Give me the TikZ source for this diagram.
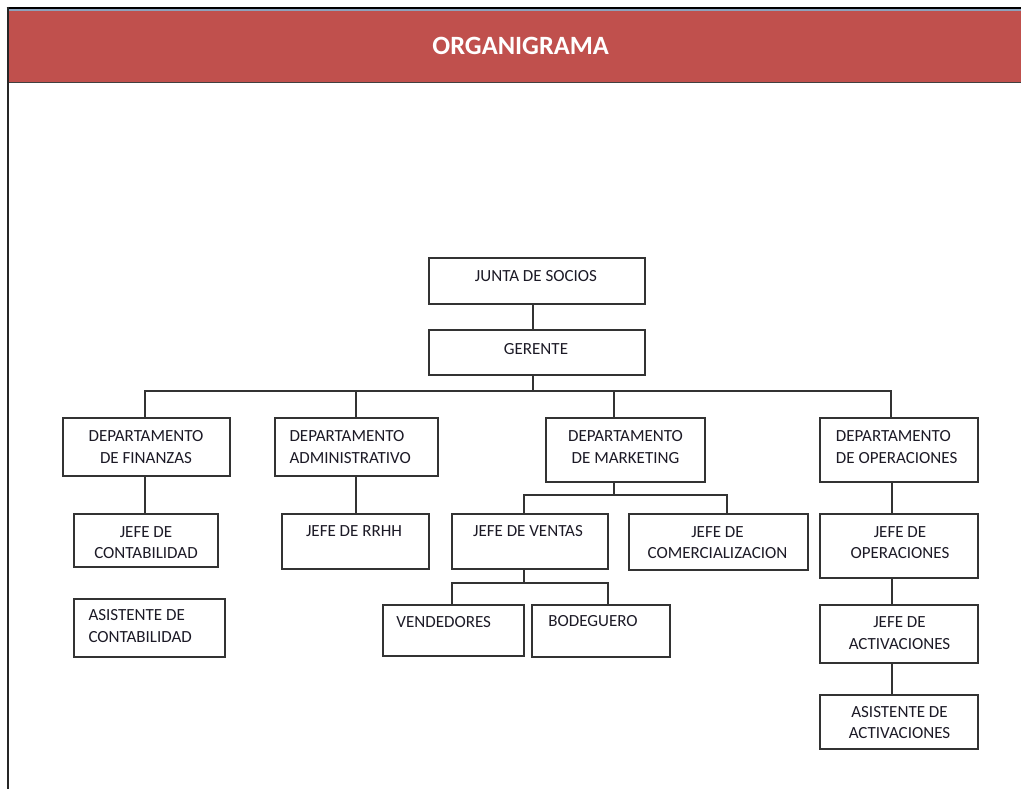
\documentclass[tikz,border=0pt]{standalone}
\usepackage{fontspec}
\setmainfont{Carlito}
\usepackage{tikz}
\definecolor{hdrred}{HTML}{C0504D}
\definecolor{hdrline}{HTML}{8EA2BC}
\definecolor{ink}{HTML}{1C1A26}

\begin{document}
\begin{tikzpicture}[x=1pt,y=-1pt]
\tikzstyle{box}=[draw=black!80,line width=1.6pt,inner sep=0pt];
\tikzstyle{txt}=[inner sep=0pt,align=center,text=ink,font=\fontsize{17}{21.5}\selectfont];
\tikzstyle{txtl}=[txt,anchor=west,align=left];
\tikzstyle{link}=[draw=black!80,line width=1.6pt];
\tikzstyle{titulo}=[inner sep=0pt,text=white,font=\fontsize{26.4}{30}\selectfont\bfseries];
\useasboundingbox (0,0) rectangle (1021,789);
\fill [white] (0,0) rectangle (1021,789);
\fill [hdrred] (8,9) rectangle (1021,82.5);
\draw [hdrline,line width=1.4pt] (9,10.2) -- (1021,10.2);
\draw [black!75,line width=1.2pt] (8,82.5) -- (1021,82.5);
\draw [black,line width=2pt] (6.5,8) -- (1021,8);
\draw [black!85,line width=2.6pt] (8,7) -- (8,789);
\node [titulo] (head) at (520.7,46.3) {ORGANIGRAMA};

\node [box,minimum width=216,minimum height=46] (junta) at (537,281) {};
\node [txt] (junta-t) at (536,275.7) {JUNTA DE SOCIOS};
\node [box,minimum width=216,minimum height=45] (gerente) at (537,352.5) {};
\node [txt] (gerente-t) at (536,349) {GERENTE};

\node [box,minimum width=167,minimum height=58] (fin) at (146.5,447) {};
\node [txt] (fin-t) at (146,447) {DEPARTAMENTO\\DE FINANZAS};
\node [box,minimum width=163,minimum height=58] (adm) at (356.5,447) {};
\node [txtl] (adm-t) at (289.3,447) {DEPARTAMENTO\\ADMINISTRATIVO};
\node [box,minimum width=159,minimum height=64] (mkt) at (625.5,450) {};
\node [txt] (mkt-t) at (625.5,447) {DEPARTAMENTO\\DE MARKETING};
\node [box,minimum width=158,minimum height=64] (ope) at (899,450) {};
\node [txtl] (ope-t) at (835.7,447) {DEPARTAMENTO\\DE OPERACIONES};

\node [box,minimum width=144,minimum height=53] (jcont) at (146,540.5) {};
\node [txt] (jcont-t) at (146,542.5) {JEFE DE\\CONTABILIDAD};
\node [box,minimum width=151,minimum height=58] (acont) at (149.5,628) {};
\node [txtl] (acont-t) at (88.3,626) {ASISTENTE DE\\CONTABILIDAD};
\node [box,minimum width=147,minimum height=55] (rrhh) at (355.5,541.5) {};
\node [txt] (rrhh-t) at (354,530.7) {JEFE DE RRHH};
\node [box,minimum width=156,minimum height=55] (jven) at (530,541.5) {};
\node [txt] (jven-t) at (528,530.7) {JEFE DE VENTAS};
\node [box,minimum width=179,minimum height=56] (jcom) at (718.5,542) {};
\node [txt] (jcom-t) at (717.5,542.5) {JEFE DE\\COMERCIALIZACION};
\node [box,minimum width=141,minimum height=51] (vend) at (453.5,630.5) {};
\node [txt] (vend-t) at (443.7,622.3) {VENDEDORES};
\node [box,minimum width=138,minimum height=52] (bod) at (601,631) {};
\node [txt] (bod-t) at (593,621) {BODEGUERO};

\node [box,minimum width=158,minimum height=64] (jope) at (899,546) {};
\node [txt] (jope-t) at (900,542.5) {JEFE DE\\OPERACIONES};
\node [box,minimum width=158,minimum height=58] (jact) at (899,634) {};
\node [txt] (jact-t) at (899.5,633) {JEFE DE\\ACTIVACIONES};
\node [box,minimum width=158,minimum height=54] (aact) at (899,722) {};
\node [txt] (aact-t) at (899.5,722.5) {ASISTENTE DE\\ACTIVACIONES};

\coordinate (bus) at (533,391);
\coordinate (mbus) at (614,495);
\coordinate (vbus) at (524,583);
\draw [link] ([xshift=-4pt]junta.south) -- ([xshift=-4pt]gerente.north);
\draw [link] ([xshift=-4pt]gerente.south) -- (bus);
\draw [link] ([xshift=-1.5pt]fin.north) |- (bus);
\draw [link] ([xshift=-0.5pt]adm.north) |- (bus);
\draw [link] ([xshift=-11.5pt]mkt.north) |- (bus);
\draw [link] ([xshift=-8pt]ope.north) |- (bus);
\draw [link] ([xshift=-1.5pt]fin.south) -- ([xshift=-1pt]jcont.north);
\draw [link] ([xshift=-0.5pt]adm.south) -- ([xshift=0.5pt]rrhh.north);
\draw [link] ([xshift=-11.5pt]mkt.south) -- (mbus);
\draw [link] ([xshift=-6pt]jven.north) |- (mbus) -| ([xshift=8.5pt]jcom.north);
\draw [link] ([xshift=-6pt]jven.south) -- (vbus);
\draw [link] ([xshift=-1.5pt]vend.north) |- (vbus) -| ([xshift=7pt]bod.north);
\draw [link] ([xshift=-7pt]ope.south) -- ([xshift=-7pt]jope.north);
\draw [link] ([xshift=-7pt]jope.south) -- ([xshift=-7pt]jact.north);
\draw [link] ([xshift=-7pt]jact.south) -- ([xshift=-7pt]aact.north);
\end{tikzpicture}
\end{document}
